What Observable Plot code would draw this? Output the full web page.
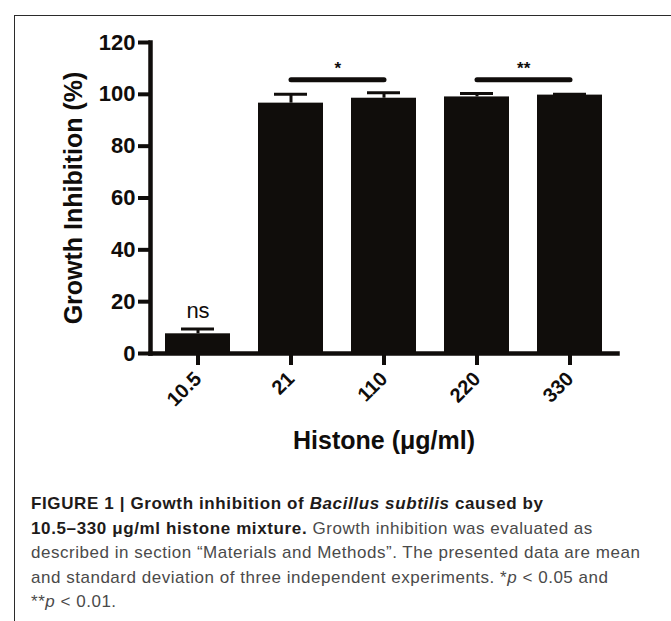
<!DOCTYPE html>
<html>
<head>
<meta charset="utf-8">
<script src="https://cdn.jsdelivr.net/npm/d3@7"></script>
<script src="https://cdn.jsdelivr.net/npm/@observablehq/plot@0.6"></script>
<style>
  html, body { margin: 0; padding: 0; background: #fff; width: 671px; height: 621px; overflow: hidden; }
  #wrap { position: relative; width: 671px; height: 621px; }
  #border { position: absolute; left: 14px; top: 15px; width: 700px; height: 700px;
            border-top: 1.3px solid #2b2b2b; border-left: 1.3px solid #2b2b2b; }
  #chart { position: absolute; left: 0; top: 0; }
  #caption { position: absolute; left: 31px; top: 492px; white-space: nowrap;
             font-family: "Liberation Sans", Arial, sans-serif; font-size: 17px; line-height: 24.5px;
             letter-spacing: 0.52px; color: #4a4a4a; }
  #caption b { color: #1e1b1a; letter-spacing: 0.62px; }
</style>
</head>
<body>
<div id="wrap">
  <div id="border"></div>
  <div id="chart"></div>
  <div id="caption"><b>FIGURE 1 | Growth inhibition of <i>Bacillus subtilis</i> caused by<br>10.5–330 μg/ml histone mixture.</b> Growth inhibition was evaluated as<br>described in section “Materials and Methods”. The presented data are mean<br>and standard deviation of three independent experiments. *<i>p</i> &lt; 0.05 and<br>**<i>p</i> &lt; 0.01.</div>
</div>
<script>
// ---- data ----
const doses = ["10.5", "21", "110", "220", "330"];
const means = [7.6, 96.6, 98.5, 99.0, 99.7];
const sds = [1.9, 3.4, 2.1, 1.3, 0.3];
const yTicks = [0, 20, 40, 60, 80, 100, 120];
const sigFrom = ["21", "220"];
const sigTo = ["110", "330"];
const sigLabels = ["*", "**"];
const sigLevel = [105.6, 105.6];
const nsDose = "10.5";
const nsLabel = "ns";
const xTitle = "Histone (μg/ml)";
const yTitle = "Growth Inhibition (%)";

const data = doses.map((d, i) => ({dose: d, mean: means[i], sd: sds[i]}));
const sig = sigFrom.map((f, i) => ({from: f, to: sigTo[i], label: sigLabels[i], y: sigLevel[i]}));
const nsData = data.filter(d => d.dose === nsDose);

// ---- layout ----
const W = 671, H = 470, mL = 150, mR = 54, mT = 42, mB = 117;
const pIn = 0.3, pOut = 0.15;
const step = (W - mL - mR) / (doses.length - pIn + 2 * pOut);
const ink = "#100d0b";
const font = "'Liberation Sans', Arial, Helvetica, sans-serif";

const chart = Plot.plot({
  width: W, height: H,
  marginLeft: mL, marginRight: mR, marginTop: mT, marginBottom: mB,
  style: {fontFamily: font, background: "transparent", color: ink, overflow: "visible"},
  x: {type: "band", domain: doses, paddingInner: pIn, paddingOuter: pOut},
  y: {domain: [0, 120]},
  marks: [
    Plot.barY(data, {x: "dose", y: "mean", fill: ink}),
    Plot.ruleX(data, {x: "dose", y1: "mean", y2: d => d.mean + d.sd, stroke: ink, strokeWidth: 3}),
    Plot.tickY(data, {x: "dose", y: d => d.mean + d.sd, stroke: ink, strokeWidth: 3, insetLeft: 16, insetRight: 16}),
    Plot.axisY({ticks: yTicks, tickSize: 12, tickPadding: 3, fontSize: 22, fontWeight: "bold",
                stroke: ink, strokeWidth: 4, label: null}),
    Plot.axisX({tickSize: 12, tickPadding: 10, tickRotate: -45, fontSize: 20, fontWeight: "bold",
                stroke: ink, strokeWidth: 4, label: null}),
    Plot.frame({anchor: "left", stroke: ink, strokeWidth: 4.5}),
    Plot.frame({anchor: "bottom", stroke: ink, strokeWidth: 4.5}),
    Plot.link(sig, {x1: "from", x2: "to", y1: "y", y2: "y", stroke: ink, strokeWidth: 5, strokeLinecap: "round"}),
    Plot.text(sig, {x: "from", y: "y", text: "label", dx: step / 2, dy: -11, fontSize: 17, fontWeight: "bold", fill: ink}),
    Plot.text(nsData, {x: "dose", y: d => d.mean + d.sd, text: () => nsLabel, dy: -18, fontSize: 22, fill: ink}),
    Plot.text([yTitle], {frameAnchor: "left", text: d => d, rotate: -90, dx: -77, fontSize: 25,
                         fontWeight: "bold", fill: ink, textAnchor: "middle", lineAnchor: "middle"}),
    Plot.text([xTitle], {frameAnchor: "bottom", text: d => d, dy: 87, fontSize: 25,
                         fontWeight: "bold", fill: ink, textAnchor: "middle", lineAnchor: "middle"})
  ]
});
document.getElementById("chart").appendChild(chart);
</script>
</body>
</html>
